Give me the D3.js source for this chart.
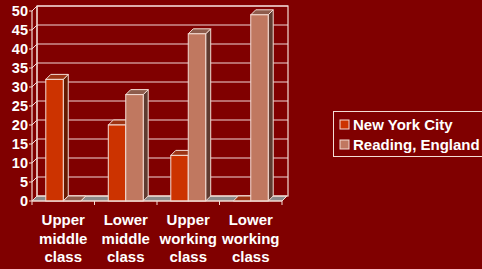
<!DOCTYPE html>
<html lang="en">
<head>
<meta charset="utf-8">
<title>Class by city</title>
<script src="https://d3js.org/d3.v7.min.js"></script>
<style>
  html, body { margin: 0; padding: 0; background: #800000; }
  svg { display: block; }
  text { font-family: "Liberation Sans", Arial, sans-serif; font-weight: bold; fill: #fff; }
</style>
</head>
<body>
<script>
// data
var categories = [["Upper", "middle", "class"], ["Lower", "middle", "class"],
                  ["Upper", "working", "class"], ["Lower", "working", "class"]];
var seriesNames = ["New York City", "Reading, England"];
var newYork = [32, 20, 12, 0];
var reading = [0, 28, 44, 49];
var yTicks = [0, 5, 10, 15, 20, 25, 30, 35, 40, 45, 50];

var width = 482, height = 269;
var depth = 5;
var colors = [
  { front: "#cc3300", top: "#9c3414", side: "#661a00" },
  { front: "#c07860", top: "#8e5c4c", side: "#5f3b30" }
];
var edge = "#f4dcd4";

var svg = d3.select("body").append("svg")
    .attr("width", width)
    .attr("height", height);

var x = d3.scaleBand()
    .domain(d3.range(categories.length))
    .range([32, 282])
    .paddingInner(0)
    .paddingOuter(0);

var xs = d3.scaleBand()
    .domain(d3.range(seriesNames.length))
    .range([0, x.bandwidth()])
    .paddingOuter(0.79)
    .paddingInner(0);

var y = d3.scaleLinear()
    .domain([0, 50])
    .range([201, 11]);

var x0 = x.range()[0], x1 = x.range()[1];

// floor
svg.append("polygon")
    .attr("points", [[x0, y(0)], [x1, y(0)], [x1 + depth, y(0) - depth], [x0 + depth, y(0) - depth]].join(" "))
    .attr("fill", "#8a8a8a")
    .attr("stroke", edge)
    .attr("stroke-width", 1);

// back wall outline
svg.append("rect")
    .attr("x", x0 + depth).attr("y", y(50) - depth)
    .attr("width", x1 - x0 + 1).attr("height", y(0) - y(50))
    .attr("fill", "none").attr("stroke", edge).attr("stroke-width", 1.2);

// grid lines
var grid = svg.append("g");
grid.selectAll("line.back")
    .data(yTicks.slice(1))
    .enter().append("line")
    .attr("x1", x0 + depth).attr("x2", x1 + depth + 1)
    .attr("y1", function(d) { return y(d) - depth; })
    .attr("y2", function(d) { return y(d) - depth; })
    .attr("stroke", "#f2d6d6").attr("stroke-width", 1.2);
grid.selectAll("line.side")
    .data(yTicks)
    .enter().append("line")
    .attr("x1", x0).attr("x2", x0 + depth)
    .attr("y1", function(d) { return y(d); })
    .attr("y2", function(d) { return y(d) - depth; })
    .attr("stroke", "#f2d6d6").attr("stroke-width", 1);
svg.append("line")
    .attr("x1", x0 + depth).attr("x2", x0 + depth)
    .attr("y1", y(50) - depth).attr("y2", y(0) - depth)
    .attr("stroke", edge).attr("stroke-width", 1);

// bars
var rows = [];
categories.forEach(function(c, i) {
  [newYork[i], reading[i]].forEach(function(v, s) {
    rows.push({ cat: i, s: s, v: v });
  });
});

var bars = svg.append("g").selectAll("g")
    .data(rows)
    .enter().append("g");

function bx(d) { return x(d.cat) + xs(d.s); }

bars.append("polygon")   // side
    .attr("points", function(d) {
      var l = bx(d), r = l + xs.bandwidth(), t = y(d.v), b = y(0);
      return [[r, t], [r + depth, t - depth], [r + depth, b - depth], [r, b]].join(" ");
    })
    .attr("fill", function(d) { return colors[d.s].side; })
    .attr("stroke", edge).attr("stroke-width", 1);
bars.append("polygon")   // top
    .attr("points", function(d) {
      var l = bx(d), r = l + xs.bandwidth(), t = y(d.v);
      return [[l, t], [r, t], [r + depth, t - depth], [l + depth, t - depth]].join(" ");
    })
    .attr("fill", function(d) { return colors[d.s].top; })
    .attr("stroke", edge).attr("stroke-width", 1);
bars.filter(function(d) { return d.v > 0; })
    .append("rect")      // front
    .attr("x", bx)
    .attr("y", function(d) { return y(d.v); })
    .attr("width", xs.bandwidth())
    .attr("height", function(d) { return y(0) - y(d.v); })
    .attr("fill", function(d) { return colors[d.s].front; })
    .attr("stroke", edge).attr("stroke-width", 1);

// y axis
var yAxis = svg.append("g");
yAxis.append("line")
    .attr("x1", x0).attr("x2", x0).attr("y1", y(50)).attr("y2", y(0))
    .attr("stroke", edge).attr("stroke-width", 1.2);
yAxis.selectAll("line.tick")
    .data(yTicks)
    .enter().append("line")
    .attr("x1", x0 - 3).attr("x2", x0)
    .attr("y1", function(d) { return y(d); })
    .attr("y2", function(d) { return y(d); })
    .attr("stroke", edge);
yAxis.selectAll("text")
    .data(yTicks)
    .enter().append("text")
    .attr("x", x0 - 4)
    .attr("y", function(d) { return y(d) + 5; })
    .attr("text-anchor", "end")
    .style("font-size", "14.5px")
    .text(function(d) { return d; });

// x axis
var xAxis = svg.append("g");
xAxis.append("line")
    .attr("x1", x0).attr("x2", x1).attr("y1", y(0)).attr("y2", y(0))
    .attr("stroke", edge).attr("stroke-width", 1.2);
xAxis.selectAll("line.tick")
    .data(d3.range(categories.length + 1))
    .enter().append("line")
    .attr("x1", function(d) { return x0 + d * x.bandwidth(); })
    .attr("x2", function(d) { return x0 + d * x.bandwidth(); })
    .attr("y1", y(0)).attr("y2", y(0) + 4)
    .attr("stroke", edge);
xAxis.selectAll("text")
    .data(categories)
    .enter().append("text")
    .attr("text-anchor", "middle")
    .style("font-size", "15px")
    .each(function(lines, i) {
      d3.select(this).selectAll("tspan")
        .data(lines)
        .enter().append("tspan")
        .attr("x", x(i) + x.bandwidth() / 2)
        .attr("y", function(d, j) { return 225 + j * 18.7; })
        .text(function(d) { return d; });
    });

// legend
var legend = svg.append("g");
legend.append("rect")
    .attr("x", 333.5).attr("y", 111.5)
    .attr("width", 160).attr("height", 45)
    .attr("fill", "none").attr("stroke", edge).attr("stroke-width", 1);
var items = legend.selectAll("g")
    .data(seriesNames)
    .enter().append("g")
    .attr("transform", function(d, i) { return "translate(340," + (120 + i * 20) + ")"; });
items.append("rect")
    .attr("width", 9).attr("height", 9)
    .attr("fill", function(d, i) { return colors[i].front; })
    .attr("stroke", edge).attr("stroke-width", 1);
items.append("text")
    .attr("x", 13).attr("y", 9.5)
    .style("font-size", "15px")
    .text(function(d) { return d; });
</script>
</body>
</html>
